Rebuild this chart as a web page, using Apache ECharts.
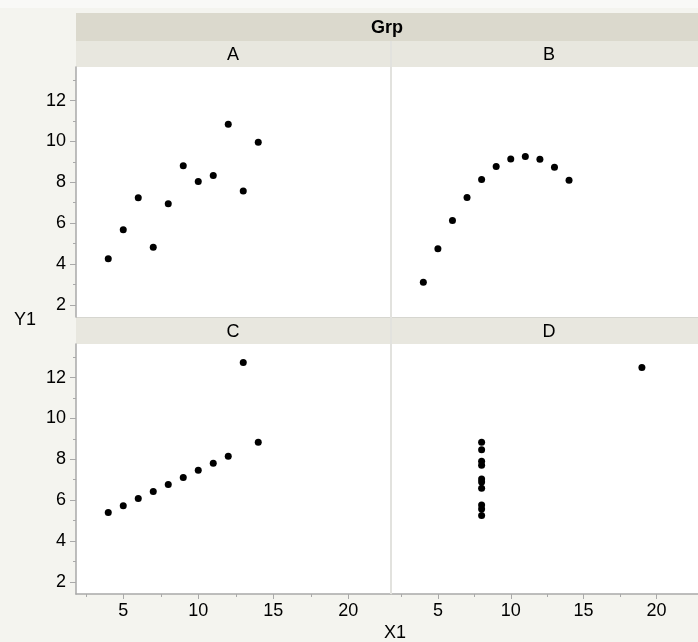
<!DOCTYPE html>
<html>
<head>
<meta charset="utf-8">
<script src="https://cdn.jsdelivr.net/npm/echarts@6/dist/echarts.min.js"></script>
<style>
  html, body { margin: 0; padding: 0; background: #f4f4ef; }
  #chart { width: 698px; height: 642px; }
</style>
</head>
<body>
<div id="chart"></div>
<script>
// Anscombe-style groups, values
const groups = ['A', 'B', 'C', 'D']
const xA = [10, 8, 13, 9, 11, 14, 6, 4, 12, 7, 5]
const yA = [8.04, 6.95, 7.58, 8.81, 8.33, 9.96, 7.24, 4.26, 10.84, 4.82, 5.68]
const xB = [10, 8, 13, 9, 11, 14, 6, 4, 12, 7, 5]
const yB = [9.14, 8.14, 8.74, 8.77, 9.26, 8.10, 6.13, 3.10, 9.13, 7.26, 4.74]
const xC = [10, 8, 13, 9, 11, 14, 6, 4, 12, 7, 5]
const yC = [7.46, 6.77, 12.74, 7.11, 7.81, 8.84, 6.08, 5.39, 8.15, 6.42, 5.73]
const xD = [8, 8, 8, 8, 8, 8, 8, 19, 8, 8, 8]
const yD = [6.58, 5.76, 7.71, 8.84, 8.47, 7.04, 5.25, 12.50, 5.56, 7.91, 6.89]

const xTicks = [5, 10, 15, 20]
const xMinor = [2.5, 7.5, 12.5, 17.5]
const yTicks = [2, 4, 6, 8, 10, 12]
const yMinor = [3, 5, 7, 9, 11, 13]

const groupData = [[xA, yA], [xB, yB], [xC, yC], [xD, yD]]

const font = 'Liberation Sans, Arial, sans-serif'
const axisGray = '#a9a9a9'
const X_MIN = 1.85, X_MAX = 22.85
const Y_MIN = 1.4, Y_MAX = 13.65

const W = 315, H = 250
const lefts = [76, 392, 76, 392]
const tops = [67, 67, 344, 344]

const grid = groups.map((g, i) => ({
  left: lefts[i], top: tops[i], width: W, height: H,
  show: true, backgroundColor: '#fff', borderWidth: 0
}))

const xAxis = []
const yAxis = []
groups.forEach((g, i) => {
  const bottom = i >= 2
  const left = i % 2 === 0
  // major x
  xAxis.push({
    type: 'value', gridIndex: i, min: X_MIN, max: X_MAX,
    axisLine: { show: bottom, onZero: false, lineStyle: { color: axisGray, width: 1.5 } },
    axisTick: { show: bottom, length: 5, customValues: xTicks, lineStyle: { color: axisGray } },
    axisLabel: { show: bottom, customValues: xTicks, fontFamily: font, fontSize: 18, color: '#000', margin: 8 },
    splitLine: { show: false }
  })
  // minor x
  xAxis.push({
    type: 'value', gridIndex: i, min: X_MIN, max: X_MAX, position: 'bottom',
    axisLine: { show: false, onZero: false },
    axisTick: { show: bottom, length: 3, customValues: xMinor, lineStyle: { color: axisGray } },
    axisLabel: { show: false },
    splitLine: { show: false }
  })
  // major y
  yAxis.push({
    type: 'value', gridIndex: i, min: Y_MIN, max: Y_MAX,
    axisLine: { show: left, onZero: false, lineStyle: { color: axisGray, width: 1.5 } },
    axisTick: { show: left, length: 6, customValues: yTicks, lineStyle: { color: axisGray } },
    axisLabel: { show: left, customValues: yTicks, fontFamily: font, fontSize: 18, color: '#000', margin: 10 },
    splitLine: { show: false }
  })
  // minor y
  yAxis.push({
    type: 'value', gridIndex: i, min: Y_MIN, max: Y_MAX, position: 'left',
    axisLine: { show: false, onZero: false },
    axisTick: { show: left, length: 3, customValues: yMinor, lineStyle: { color: axisGray } },
    axisLabel: { show: false },
    splitLine: { show: false }
  })
})

const series = groups.map((g, i) => ({
  name: g,
  type: 'scatter',
  xAxisIndex: i * 2,
  yAxisIndex: i * 2,
  symbolSize: 7,
  itemStyle: { color: '#000', opacity: 1 },
  data: groupData[i][0].map((x, k) => [x, groupData[i][1][k]])
}))

const headerText = (txt, x, y, bold) => ({
  type: 'text', x, y, z: 20,
  style: { text: txt, fill: '#000', font: (bold ? 'bold ' : '') + '18px ' + font, textAlign: 'center', textVerticalAlign: 'middle' }
})

const graphic = [
  { type: 'rect', shape: { x: 0, y: 0, width: 698, height: 8 }, style: { fill: '#f9f9f7' }, z: -1 },
  // Grp band
  { type: 'rect', shape: { x: 76, y: 13, width: 622, height: 28 }, style: { fill: '#dbd9cd' } },
  headerText('Grp', 387, 28, true),
  // A / B headers
  { type: 'rect', shape: { x: 76, y: 41, width: 622, height: 26 }, style: { fill: '#e8e7df' } },
  headerText('A', 233, 55),
  headerText('B', 549, 55),
  // C / D headers
  { type: 'rect', shape: { x: 76, y: 317, width: 622, height: 27 }, style: { fill: '#e8e7df' } },
  { type: 'line', shape: { x1: 76, y1: 317.5, x2: 698, y2: 317.5 }, style: { stroke: '#d6d6d0', lineWidth: 1 } },
  headerText('C', 233, 332),
  headerText('D', 549, 332),
  // vertical divider between columns
  { type: 'rect', shape: { x: 390, y: 41, width: 2, height: 553 }, style: { fill: '#e2e2de' }, z: 10 },
  // axis titles
  { type: 'text', x: 25, y: 320, style: { text: 'Y1', fill: '#000', font: '18px ' + font, textAlign: 'center', textVerticalAlign: 'middle' } },
  { type: 'text', x: 395, y: 633, style: { text: 'X1', fill: '#000', font: '18px ' + font, textAlign: 'center', textVerticalAlign: 'middle' } }
]

const chart = echarts.init(document.getElementById('chart'))
chart.setOption({
  backgroundColor: '#f4f4ef',
  animation: false,
  grid,
  xAxis,
  yAxis,
  series,
  graphic
})
</script>
</body>
</html>
